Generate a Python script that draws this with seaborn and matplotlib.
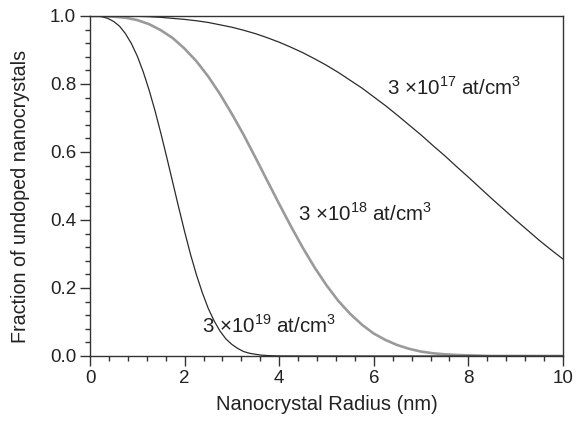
import numpy as np
import pandas as pd
import matplotlib
matplotlib.use("Agg")
import matplotlib.pyplot as plt
from matplotlib.ticker import MultipleLocator, FormatStrFormatter
import seaborn as sns

# Data (fraction of undoped nanocrystals vs radius, nm)
radius = [0.0, 0.25, 0.5, 0.75, 1.0, 1.25, 1.5, 1.75, 2.0, 2.25, 2.5, 2.75, 3.0,
          3.25, 3.5, 3.75, 4.0, 4.25, 4.5, 4.75, 5.0, 5.25, 5.5, 5.75, 6.0, 6.25,
          6.5, 6.75, 7.0, 7.25, 7.5, 7.75, 8.0, 8.25, 8.5, 8.75, 9.0, 9.25, 9.5,
          9.75, 10.0]

frac_3e17 = [1.000, 1.000, 1.000, 0.999, 0.999, 0.998, 0.996, 0.993, 0.990, 0.986,
             0.981, 0.974, 0.967, 0.958, 0.948, 0.936, 0.923, 0.908, 0.892, 0.874,
             0.855, 0.834, 0.811, 0.788, 0.762, 0.736, 0.708, 0.679, 0.650, 0.619,
             0.589, 0.557, 0.526, 0.494, 0.462, 0.431, 0.400, 0.370, 0.340, 0.312,
             0.285]

frac_3e18 = [1.000, 1.000, 0.998, 0.995, 0.988, 0.976, 0.958, 0.935, 0.904, 0.867,
             0.822, 0.770, 0.712, 0.650, 0.583, 0.515, 0.447, 0.381, 0.318, 0.260,
             0.208, 0.162, 0.124, 0.092, 0.066, 0.047, 0.032, 0.021, 0.013, 0.008,
             0.005, 0.003, 0.002, 0.001, 0.000, 0.000, 0.000, 0.000, 0.000, 0.000,
             0.000]

radius_3e19 = [0.0, 0.125, 0.25, 0.375, 0.5, 0.625, 0.75, 0.875, 1.0, 1.125, 1.25,
               1.375, 1.5, 1.625, 1.75, 1.875, 2.0, 2.125, 2.25, 2.375, 2.5, 2.625,
               2.75, 2.875, 3.0, 3.125, 3.25, 3.375, 3.5, 3.625, 3.75, 3.875, 4.0,
               4.5, 5.0, 6.0, 7.0, 8.0, 9.0, 10.0]
frac_3e19 = [1.000, 1.000, 0.998, 0.993, 0.984, 0.970, 0.948, 0.919, 0.882, 0.836,
             0.782, 0.721, 0.654, 0.583, 0.510, 0.437, 0.366, 0.299, 0.239, 0.186,
             0.140, 0.103, 0.073, 0.050, 0.034, 0.022, 0.013, 0.008, 0.005, 0.0025,
             0.0013, 0.0007, 0.0003, 0.000, 0.000, 0.000, 0.000, 0.000, 0.000, 0.000]

labels = ["3 \u00d710$^{\\mathregular{17}}$ at/cm$^{\\mathregular{3}}$",
          "3 \u00d710$^{\\mathregular{18}}$ at/cm$^{\\mathregular{3}}$",
          "3 \u00d710$^{\\mathregular{19}}$ at/cm$^{\\mathregular{3}}$"]

sns.set_style("ticks")
plt.rcParams["font.family"] = ["Liberation Sans", "DejaVu Sans"]
plt.rcParams["mathtext.fontset"] = "custom"
plt.rcParams["mathtext.rm"] = "Liberation Sans"

fig = plt.figure(figsize=(5.85, 4.26), dpi=100)
ax = fig.add_axes([90 / 585, 70 / 426, 473 / 585, 340 / 426])

dark = "#2b2b2b"
df1 = pd.DataFrame({"r": radius, "f": frac_3e17})
df2 = pd.DataFrame({"r": radius, "f": frac_3e18})
df3 = pd.DataFrame({"r": radius_3e19, "f": frac_3e19})
sns.lineplot(data=df1, x="r", y="f", ax=ax, color=dark, lw=0.9)
sns.lineplot(data=df2, x="r", y="f", ax=ax, color="#9a9a9a", lw=1.9)
sns.lineplot(data=df3, x="r", y="f", ax=ax, color=dark, lw=0.9)

ax.set_xlim(0, 10)
ax.set_ylim(0, 1.0)
ax.xaxis.set_major_locator(MultipleLocator(2))
ax.xaxis.set_minor_locator(MultipleLocator(0.4))
ax.yaxis.set_major_locator(MultipleLocator(0.2))
ax.yaxis.set_minor_locator(MultipleLocator(0.04))
ax.xaxis.set_major_formatter(FormatStrFormatter("%g"))
ax.yaxis.set_major_formatter(FormatStrFormatter("%.1f"))

ax.tick_params(which="major", direction="out", length=7, width=1.0,
               color="#333333", labelsize=13.5, labelcolor="#222222", pad=3)
ax.tick_params(which="minor", direction="out", length=3.6, width=1.0, color="#333333")
for s in ax.spines.values():
    s.set_linewidth(1.0)
    s.set_color("#333333")
    s.set_visible(True)

ax.set_xlabel("Nanocrystal Radius (nm)", fontsize=14.5, color="#222222", labelpad=6)
ax.set_ylabel("Fraction of undoped nanocrystals", fontsize=14.2, color="#222222")
ax.yaxis.set_label_coords(-0.127, 0.47)

ax.text(6.28, 0.79, labels[0], fontsize=14.8, color="#222222", va="center", ha="left")
ax.text(4.4, 0.42, labels[1], fontsize=14.8, color="#222222", va="center", ha="left")
ax.text(2.37, 0.09, labels[2], fontsize=14.8, color="#222222", va="center", ha="left")

fig.savefig("out.png", dpi=100)
